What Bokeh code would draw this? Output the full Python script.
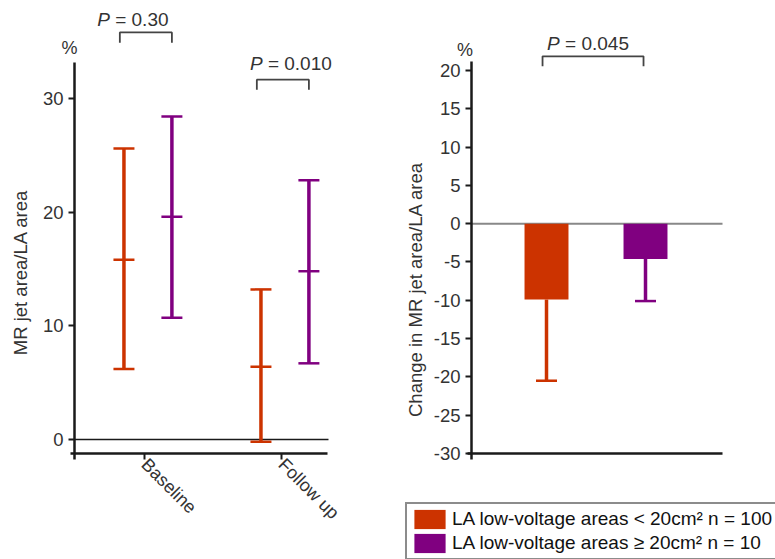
import math
from bokeh.plotting import figure
from bokeh.layouts import row
from bokeh.models import (Range1d, FixedTicker, Legend, LegendItem, LinearAxis,
                          ColumnDataSource, CustomJSTickFormatter)
from bokeh.core.properties import value
from bokeh.embed import file_html
from bokeh.resources import INLINE

# ---------------- data ----------------
timepoints = ["Baseline", "Follow up"]
group_labels = ["LA low-voltage areas < 20cm\u00b2 n = 100",
                "LA low-voltage areas \u2265 20cm\u00b2 n = 10"]
group_colors = ["#CC3300", "#800080"]

# MR jet area / LA area (%), mean and error-bar ends
small_mean = [15.8, 6.4]
small_lower = [6.2, -0.2]
small_upper = [25.6, 13.2]
large_mean = [19.6, 14.8]
large_lower = [10.7, 6.7]
large_upper = [28.4, 22.8]

# Change in MR jet area / LA area (%)
change_mean = [-9.9, -4.6]
change_lower = [-20.5, -10.1]

p_time = ["0.30", "0.010"]
p_change = ["0.045"]

left_ticks = [0, 10, 20, 30]
right_ticks = [-30, -25, -20, -15, -10, -5, 0, 5, 10, 15, 20]

# ---------------- style ----------------
FONT = "Liberation Sans"
TXT = "#333333"
AX = "#1a1a1a"
H = 559

CW = {"P": 0.667, " ": 0.278, "=": 0.584, ".": 0.278}
def tw(s, size):
    return sum(CW.get(c, 0.556) for c in s) * size


def base_fig(width, xr, yr):
    p = figure(width=width, height=H, output_backend="svg", toolbar_location=None,
               x_range=Range1d(*xr), y_range=Range1d(*yr), x_axis_type=None,
               y_axis_type=None, min_border=0, min_border_left=0, min_border_right=0,
               min_border_top=0, min_border_bottom=0)
    p.xgrid.visible = False
    p.ygrid.visible = False
    p.outline_line_color = None
    p.background_fill_color = "white"
    p.border_fill_color = "white"
    return p


def style_axis(ax):
    ax.axis_line_color = AX
    ax.axis_line_width = 2.5
    ax.major_tick_line_color = AX
    ax.major_tick_line_width = 2
    ax.major_tick_out = 6
    ax.major_tick_in = 0
    ax.minor_tick_line_color = None
    ax.major_label_text_font = FONT
    ax.major_label_text_font_size = "18.5px"
    ax.major_label_text_color = TXT
    ax.major_label_standoff = 5


def text(p, x, y, s, size, align="center", angle=0.0, style="normal", xoff=0):
    src = ColumnDataSource(dict(x=[x], y=[y]))
    p.text(x="x", y="y", text=value(s), source=src, x_offset=xoff, angle=angle,
           text_align=align, text_baseline="middle", text_font=value(FONT),
           text_font_style=style, text_font_size=value(f"{size}px"), text_color=TXT)


def p_label(p, xc, y, pv, dx, size=19):
    rest = "= " + pv
    total = tw("P " + rest, size)
    off = dx - total / 2 + tw("P", size)
    text(p, xc, y, "P", size, align="right", style="italic", xoff=off)
    text(p, xc, y, rest, size, align="left", xoff=off + tw(" ", size))


def bracket(p, x0, x1, ytop, leg):
    p.line(x=[x0, x0, x1, x1], y=[ytop - leg, ytop, ytop, ytop - leg],
           line_color="#444444", line_width=1.8)


# ---------------- left panel ----------------
L_AX_X, L_AX_END = 0.4891, 2.3358        # axis line extents (data units)
L_Y0, L_Y1 = -1.23, 33.17
p1 = base_fig(390, (-0.0511, 2.7956), (-10.554, 38.61))

yax = LinearAxis(fixed_location=L_AX_X, bounds=(L_Y0 - 0.5, L_Y1),
                 ticker=FixedTicker(ticks=left_ticks))
style_axis(yax)
p1.add_layout(yax, "left")

xax = LinearAxis(fixed_location=L_Y0, bounds=(L_AX_X - 0.03, L_AX_END),
                 ticker=FixedTicker(ticks=[1, 2]))
style_axis(xax)
xax.major_label_overrides = {i + 1: t for i, t in enumerate(timepoints)}
xax.major_label_orientation = -math.pi / 4
xax.major_label_standoff = 2
xax.major_label_text_font_size = "18px"
p1.add_layout(xax, "below")

# zero reference line
p1.segment(x0=[L_AX_X], y0=[0], x1=[2.343], y1=[0], line_color=AX, line_width=1.5)

offsets = [-0.15, 0.2]
series = [(small_mean, small_lower, small_upper), (large_mean, large_lower, large_upper)]
for g, (m, lo, up) in enumerate(series):
    xs = [i + 1 + offsets[g] for i in range(len(timepoints))]
    src = ColumnDataSource(dict(x=xs, mean=m, lower=lo, upper=up))
    c = group_colors[g]
    p1.segment(x0="x", y0="lower", x1="x", y1="upper", source=src,
               line_color=c, line_width=3.5)
    for col in ["lower", "mean", "upper"]:
        p1.scatter(x="x", y=col, source=src, marker="dash", size=21,
                   line_color=c, line_width=2.5)

br_top = [35.8, 31.65]
txt_y = [36.9, 33.1]
txt_dx = [-13, 8]
for i, pv in enumerate(p_time):
    x0 = i + 1 + offsets[0] - 0.03
    x1 = i + 1 + offsets[1]
    bracket(p1, x0, x1, br_top[i], 0.9)
    p_label(p1, (x0 + x1) / 2, txt_y[i], pv, txt_dx[i])

text(p1, 0.4526, 34.39, "%", 18)
text(p1, 0.0985, 14.69, "MR jet area/LA area", 18.5, angle=math.pi / 2)

# ---------------- right panel ----------------
R_AX_X, R_AX_END = 0.2424, 2.7778
R_Y0, R_Y1 = -30, 21.18
p2 = base_fig(385, (-0.5758, 3.3131), (-43.838, 29.138))

yax2 = LinearAxis(fixed_location=R_AX_X, bounds=(R_Y0 - 0.75, R_Y1),
                  ticker=FixedTicker(ticks=right_ticks),
                  formatter=CustomJSTickFormatter(code="return tick.toString();"))
style_axis(yax2)
p2.add_layout(yax2, "left")

xax2 = LinearAxis(fixed_location=R_Y0, bounds=(R_AX_X - 0.04, R_AX_END),
                  ticker=FixedTicker(ticks=[]))
style_axis(xax2)
p2.add_layout(xax2, "below")

p2.segment(x0=[R_AX_X], y0=[0], x1=[R_AX_END], y1=[0], line_color="#888888", line_width=2)

bars = []
for g in range(len(group_labels)):
    src = ColumnDataSource(dict(x=[g + 1], mean=[change_mean[g]], lower=[change_lower[g]]))
    c = group_colors[g]
    r = p2.vbar(x="x", top=0, bottom="mean", width=0.444, source=src,
                fill_color=c, line_color=None)
    bars.append(r)
    p2.segment(x0="x", y0="mean", x1="x", y1="lower", source=src,
               line_color=c, line_width=3.5)
    p2.scatter(x="x", y="lower", source=src, marker="dash", size=21,
               line_color=c, line_width=2.5)

bracket(p2, 1 - 0.04, 2 - 0.02, 21.85, 1.3)
p_label(p2, (1 - 0.04 + 2 - 0.02) / 2, 23.5, p_change[0], -5)

text(p2, 0.1768, 22.74, "%", 18)
text(p2, -0.3232, -8.59, "Change in MR jet area/LA area", 18.5, angle=math.pi / 2)

legend = Legend(items=[LegendItem(label=value(group_labels[g]), renderers=[bars[g]])
                       for g in range(len(group_labels))],
                location=(15, -1), orientation="vertical",
                glyph_width=39, glyph_height=24, label_height=20, label_width=10,
                spacing=-2, padding=3, margin=0, label_standoff=3,
                border_line_color=AX, border_line_width=2,
                background_fill_color="white", background_fill_alpha=1,
                label_text_font=FONT, label_text_font_size="19px",
                label_text_color="#111111")
p2.add_layout(legend)

layout = row(p1, p2)
open("out.html", "w").write(file_html(layout, INLINE))
